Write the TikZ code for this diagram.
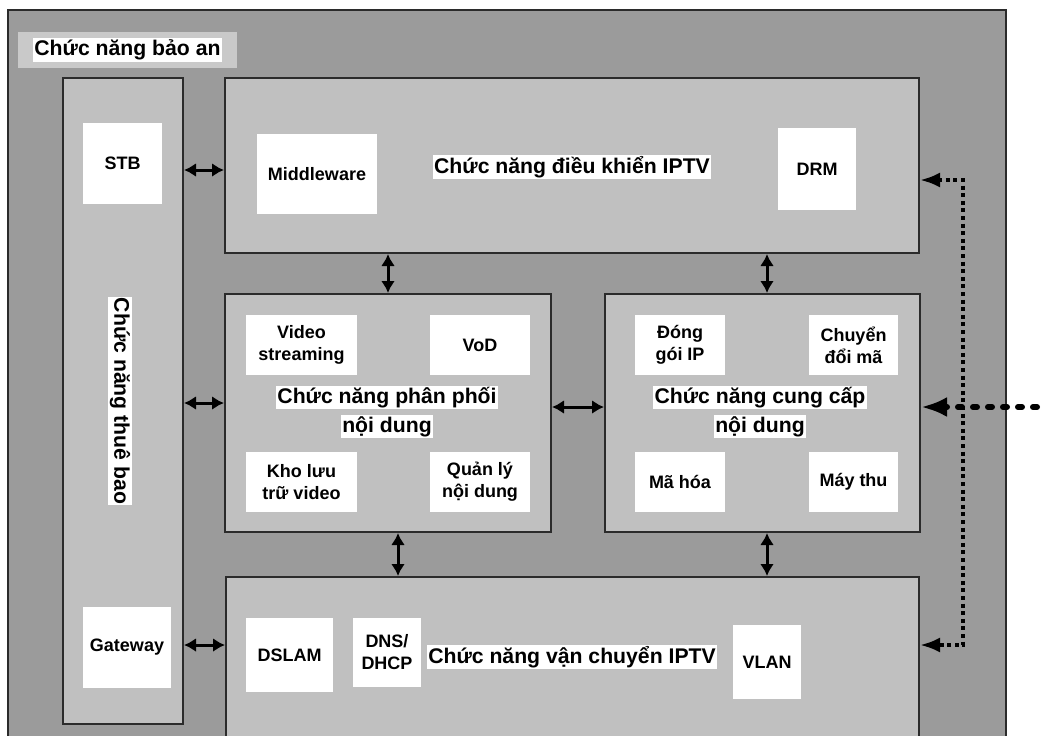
\documentclass[tikz,border=0pt]{standalone}
\usepackage{fontspec}
\setmainfont{Liberation Sans}
\usetikzlibrary{arrows.meta}

\definecolor{outergray}{HTML}{9B9B9B}
\definecolor{innergray}{HTML}{C0C0C0}
\definecolor{labelgray}{HTML}{C9C9C9}
\definecolor{boxline}{HTML}{2B2B2B}

\newcommand{\whitebg}[1]{{\setlength{\fboxsep}{0.7pt}\colorbox{white}{#1}}}

\begin{document}
\begin{tikzpicture}[x=0.5pt,y=-0.5pt,
  bigbox/.style={draw=boxline, line width=1pt, fill=innergray, inner sep=0pt},
  item/.style={fill=white, inner sep=1pt, align=center,
    font=\fontsize{9}{11}\selectfont\bfseries},
  title/.style={inner sep=0pt, align=center,
    font=\fontsize{10.6}{14.5}\selectfont\bfseries},
  link/.style={line width=1.5pt, {Latex[length=6pt,width=7pt]}-{Latex[length=6pt,width=7pt]}},
  busline/.style={line width=1.8pt, dash pattern=on 2pt off 1.8pt,
    {Latex[length=10pt,width=7.5pt]}-{Latex[length=10pt,width=7.5pt]}},
  feed/.style={line width=3pt, line cap=round, dash pattern=on 2pt off 5.5pt,
    -{Latex[length=13pt,width=10pt]}}]
\useasboundingbox (0,0) rectangle (1044,735);
\fill[white] (0,0) rectangle (1044,735);
\clip (0,0) rectangle (1044,735);

% Security frame
\node[bigbox, fill=outergray, minimum width=499pt, minimum height=375pt] (secu) at (507,385) {};
\node[fill=labelgray, minimum width=109.5pt, minimum height=18pt, inner sep=0pt,
  font=\fontsize{10.6}{13}\selectfont\bfseries] (seclbl) at (127.5,50) {\whitebg{Chức năng bảo an}};

% Subscriber column
\node[bigbox, minimum width=60pt, minimum height=323pt] (sub) at (123,401) {};
\node[title, rotate=-90] (subtxt) at (120,401) {\whitebg{Chức năng thuê bao}};
\node[item, minimum width=39.5pt, minimum height=40.5pt] (stb) at (122.5,163.5) {STB};
\node[item, minimum width=44pt, minimum height=40.5pt] (gw) at (127,647.5) {Gateway};

% IPTV control
\node[bigbox, minimum width=347pt, minimum height=87.5pt] (ctrl) at (572,165.5) {};
\node[item, minimum width=60pt, minimum height=40pt] (mw) at (317,174) {Middleware};
\node[title] (ctrltxt) at (572,167) {\whitebg{Chức năng điều khiển IPTV}};
\node[item, minimum width=39pt, minimum height=41pt] (drm) at (817,169) {DRM};

% Content distribution
\node[bigbox, minimum width=163pt, minimum height=119pt] (dist) at (388,413) {};
\node[item, minimum width=55.5pt, minimum height=30pt] (vs) at (301.5,345) {Video\\streaming};
\node[item, minimum width=50pt, minimum height=30pt] (vod) at (480,345) {VoD};
\node[title] (disttxt) at (387,412) {\whitebg{Chức năng phân phối}\\\whitebg{nội dung}};
\node[item, minimum width=55.5pt, minimum height=30pt] (kho) at (301.5,482) {Kho lưu\\trữ video};
\node[item, minimum width=50pt, minimum height=30pt] (qly) at (480,482) {Quản lý\\nội dung};

% Content provision
\node[bigbox, minimum width=157.5pt, minimum height=119pt] (prov) at (762.5,413) {};
\node[item, minimum width=45pt, minimum height=30pt] (dgip) at (680,345) {Đóng\\gói IP};
\node[item, minimum width=44.5pt, minimum height=30pt] (cdm) at (853.5,345) {Chuyển\\đổi mã};
\node[title] (provtxt) at (760,412) {\whitebg{Chức năng cung cấp}\\\whitebg{nội dung}};
\node[item, minimum width=45pt, minimum height=30pt] (mh) at (680,482) {Mã hóa};
\node[item, minimum width=44.5pt, minimum height=30pt] (mt) at (853.5,482) {Máy thu};

% IPTV transport
\node[bigbox, minimum width=346.5pt, minimum height=91.5pt] (trans) at (572.5,668.5) {};
\node[item, minimum width=43.5pt, minimum height=37pt] (dslam) at (289.5,655) {DSLAM};
\node[item, minimum width=34pt, minimum height=34.5pt] (dns) at (387,652.5) {DNS/\\DHCP};
\node[title] (transtxt) at (572,657) {\whitebg{Chức năng vận chuyển IPTV}};
\node[item, minimum width=34pt, minimum height=37pt] (vlan) at (767,662) {VLAN};

\coordinate (bus) at (963,400);
\coordinate (ext) at (1052,407);

\draw[link] (sub.east |- 0,170) -- (ctrl.west |- 0,170);
\draw[link] (sub.east |- 0,403) -- (dist.west |- 0,403);
\draw[link] (sub.east |- 0,645) -- (trans.west |- 0,645);
\draw[link] (ctrl.south -| 388,0) -- (dist.north -| 388,0);
\draw[link] (ctrl.south -| 767,0) -- (prov.north -| 767,0);
\draw[link] (dist.south -| 398,0) -- (trans.north -| 398,0);
\draw[link] (prov.south -| 767,0) -- (trans.north -| 767,0);
\draw[link] (dist.east |- 0,407) -- (prov.west |- 0,407);

\draw[busline] (ctrl.east |- 0,180) -| (bus) |- (trans.east |- 0,645);
\draw[feed] (ext) -- (prov.east |- 0,407);
\end{tikzpicture}
\end{document}
